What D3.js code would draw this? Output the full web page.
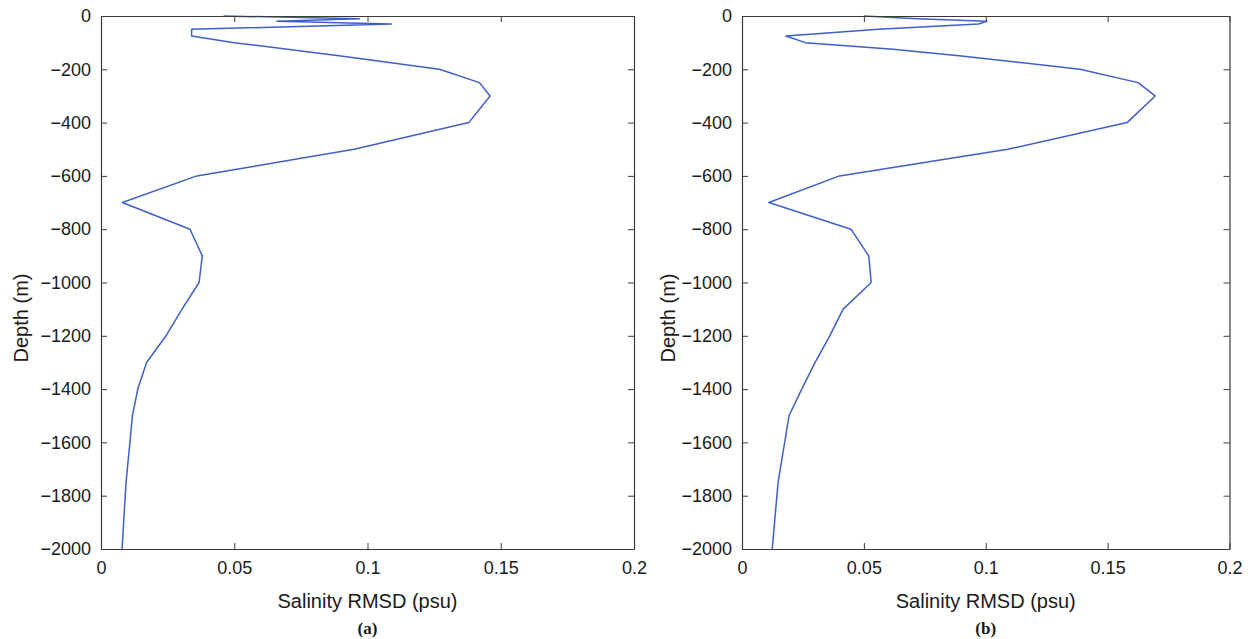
<!DOCTYPE html>
<html>
<head>
<meta charset="utf-8">
<script src="https://cdn.jsdelivr.net/npm/d3@7"></script>
<style>
  html, body { margin: 0; padding: 0; background: #ffffff; }
  svg { display: block; }
  text { font-family: "Liberation Sans", Arial, Helvetica, sans-serif; fill: #1a1a1a; }
</style>
</head>
<body>
<svg id="chart" width="1251" height="639"></svg>
<script>
// ---- data ----
const depths = [0, -10, -20, -30, -50, -75, -100, -125, -150, -200, -250, -300, -400, -500, -600, -700, -800, -900, -1000, -1100, -1200, -1300, -1400, -1500, -1750, -2000];
const rmsdA = [0.046, 0.097, 0.066, 0.109, 0.034, 0.034, 0.050, 0.070, 0.090, 0.127, 0.142, 0.146, 0.138, 0.095, 0.036, 0.008, 0.0334, 0.038, 0.0368, 0.0304, 0.0244, 0.0171, 0.0138, 0.0118, 0.0094, 0.0079];
const rmsdB = [0.050, 0.072, 0.1005, 0.097, 0.056, 0.018, 0.026, 0.062, 0.090, 0.1387, 0.1625, 0.1695, 0.158, 0.109, 0.040, 0.011, 0.0447, 0.052, 0.053, 0.0415, 0.036, 0.030, 0.0245, 0.0193, 0.0148, 0.0124];
const xTicks = [0, 0.05, 0.1, 0.15, 0.2];
const yTicks = [0, -200, -400, -600, -800, -1000, -1200, -1400, -1600, -1800, -2000];
const xLabel = "Salinity RMSD (psu)";
const yLabel = "Depth (m)";
const panelLabels = ["(a)", "(b)"];

const svg = d3.select("#chart");
const lineColor = "#3d5fc8";
const axisColor = "#3a3a3a";

const panels = [
  { values: rmsdA, x0: 101, x1: 634, label: panelLabels[0], yLabelX: 21 },
  { values: rmsdB, x0: 742, x1: 1229.5, label: panelLabels[1], yLabelX: 668 }
];
const yTop = 16, yBot = 549;

panels.forEach(p => {
  const x = d3.scaleLinear().domain([0, 0.2]).range([p.x0, p.x1]);
  const y = d3.scaleLinear().domain([-2000, 0]).range([yBot, yTop]);
  const g = svg.append("g");

  // data line
  const line = d3.line().x((d, i) => x(d)).y((d, i) => y(depths[i]));
  g.append("path")
    .datum(p.values)
    .attr("fill", "none")
    .attr("stroke", lineColor)
    .attr("stroke-width", 1.5)
    .attr("stroke-linejoin", "round")
    .attr("d", line);

  const fmt = d3.format("~g");
  const tl = 6;

  // bottom axis
  const bx = g.append("g").attr("transform", `translate(0,${yBot})`)
    .call(d3.axisBottom(x).tickValues(xTicks).tickFormat(fmt).tickSizeInner(-tl).tickSizeOuter(0).tickPadding(12));
  // top axis
  const tx = g.append("g").attr("transform", `translate(0,${yTop})`)
    .call(d3.axisTop(x).tickValues(xTicks).tickFormat("").tickSizeInner(-tl).tickSizeOuter(0));
  // left axis
  const ly = g.append("g").attr("transform", `translate(${p.x0},0)`)
    .call(d3.axisLeft(y).tickValues(yTicks).tickFormat(fmt).tickSizeInner(-tl).tickSizeOuter(0).tickPadding(10));
  // right axis
  const ry = g.append("g").attr("transform", `translate(${p.x1},0)`)
    .call(d3.axisRight(y).tickValues(yTicks).tickFormat("").tickSizeInner(-tl).tickSizeOuter(0));

  [bx, tx, ly, ry].forEach(a => {
    a.select(".domain").attr("stroke", axisColor).attr("stroke-width", 1.2);
    a.selectAll(".tick line").attr("stroke", axisColor).attr("stroke-width", 1);
    a.selectAll(".tick text")
      .attr("fill", "#1a1a1a")
      .style("font-family", '"Liberation Sans", Arial, sans-serif')
      .style("font-size", "18px");
  });

  // x label
  g.append("text")
    .attr("x", (p.x0 + p.x1) / 2)
    .attr("y", 608)
    .attr("text-anchor", "middle")
    .style("font-size", "20px")
    .text(xLabel);

  // y label
  g.append("text")
    .attr("transform", `translate(${p.yLabelX},318) rotate(-90)`)
    .attr("text-anchor", "middle")
    .attr("dominant-baseline", "central")
    .style("font-size", "20px")
    .text(yLabel);

  // panel label
  g.append("text")
    .attr("x", (p.x0 + p.x1) / 2)
    .attr("y", 634)
    .attr("text-anchor", "middle")
    .style("font-family", '"Liberation Serif", "Times New Roman", serif')
    .style("font-weight", "bold")
    .style("font-size", "17px")
    .text(p.label);
});
</script>
</body>
</html>
